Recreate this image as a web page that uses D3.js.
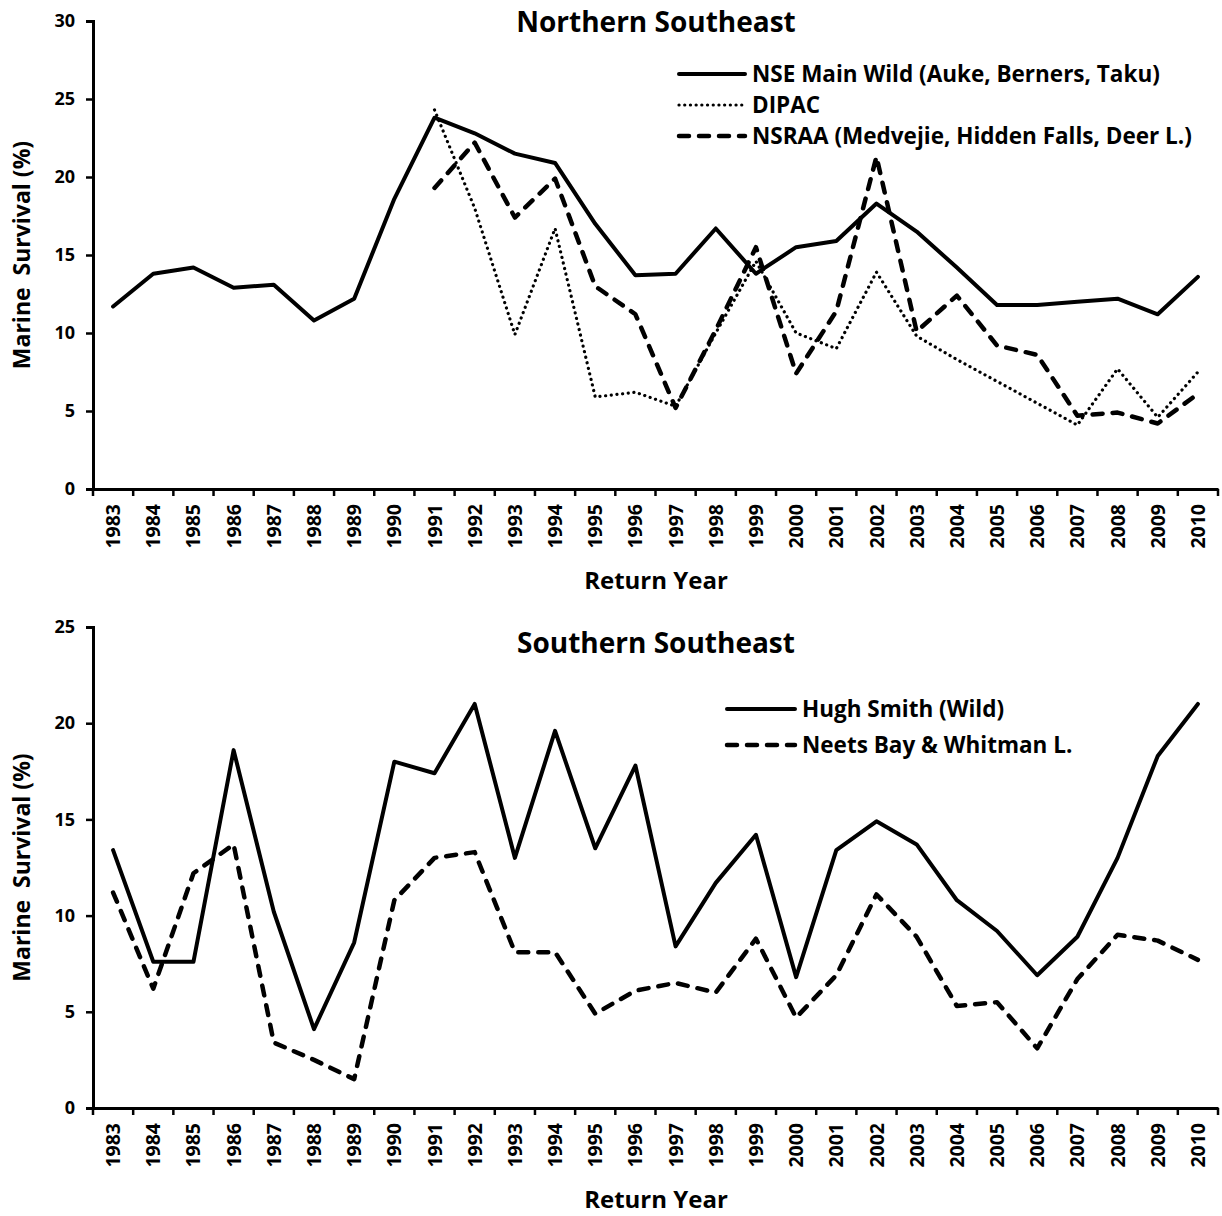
<!DOCTYPE html>
<html>
<head>
<meta charset="utf-8">
<script src="https://cdn.jsdelivr.net/npm/d3@7"></script>
<style>
  body { margin: 0; background: #fff; }
  svg text { font-family: "Open Sans", Lato, sans-serif; font-weight: 700; fill: #000; }
</style>
</head>
<body>
<script>
// return years shared by both panels
var years = d3.range(1983, 2011);

// Northern Southeast
var nseWild = [11.7, 13.8, 14.2, 12.9, 13.1, 10.8, 12.2, 18.6, 23.8, 22.8, 21.5, 20.9, 17.0, 13.7,
  13.8, 16.7, 13.8, 15.5, 15.9, 18.3, 16.5, 14.2, 11.8, 11.8, 12.0, 12.2, 11.2, 13.6];
var dipac = [null, null, null, null, null, null, null, null, 24.3, 18.0, 9.9, 16.7, 5.9, 6.2,
  5.3, 10.0, 14.6, 10.0, 9.0, 13.9, 9.8, 8.3, 6.9, 5.5, 4.1, 7.7, 4.6, 7.5];
var nsraa = [null, null, null, null, null, null, null, null, 19.3, 22.2, 17.4, 19.9, 13.0, 11.2,
  5.2, 10.2, 15.5, 7.4, 11.4, 21.3, 10.1, 12.4, 9.2, 8.6, 4.7, 4.9, 4.2, 6.1];

// Southern Southeast
var hughSmith = [13.4, 7.6, 7.6, 18.6, 10.2, 4.1, 8.6, 18.0, 17.4, 21.0, 13.0, 19.6, 13.5, 17.8,
  8.4, 11.7, 14.2, 6.8, 13.4, 14.9, 13.7, 10.8, 9.2, 6.9, 8.9, 13.0, 18.3, 21.0];
var neetsBay = [11.2, 6.2, 12.2, 13.7, 3.4, 2.5, 1.5, 10.8, 13.0, 13.3, 8.1, 8.1, 4.9, 6.1,
  6.5, 6.0, 8.8, 4.7, 6.9, 11.1, 8.9, 5.3, 5.5, 3.1, 6.7, 9.0, 8.7, 7.7];

var topTicks = [0, 5, 10, 15, 20, 25, 30];
var bottomTicks = [0, 5, 10, 15, 20, 25];

var styles = {
  solid: { width: 4, dash: null },
  dotted: { width: 3.2, dash: "0.1,5.6" },
  dashed: { width: 4.5, dash: "10,10" }
};

var svg = d3.select("body").append("svg")
  .attr("width", 1222).attr("height", 1216);

function drawPanel(opt) {
  var x = d3.scaleBand().domain(years).range([93, 1218]).padding(0);
  var y = d3.scaleLinear().domain([0, opt.max]).range([opt.bottom, opt.top]);
  var g = svg.append("g");

  // y axis
  var yAxis = d3.axisLeft(y).tickValues(opt.ticks).tickSize(7).tickPadding(11);
  var ya = g.append("g").attr("transform", "translate(93,0)").call(yAxis);
  ya.select(".domain").attr("stroke-width", 3);
  ya.selectAll(".tick line").attr("stroke-width", 2.5);
  ya.selectAll(".tick text").style("font-size", "18px");

  // x axis: ticks between categories, labels rotated
  var xAxis = d3.axisBottom(x).tickSize(0);
  var xa = g.append("g").attr("transform", "translate(0," + opt.bottom + ")").call(xAxis);
  xa.select(".domain").attr("stroke-width", 3);
  xa.selectAll(".tick text")
    .style("font-size", "19.5px")
    .attr("text-anchor", "end")
    .attr("transform", "translate(0,15) rotate(-90)")
    .attr("dy", "0.36em").attr("y", 0).attr("x", 0);
  var bounds = years.map(function(d){ return x(d); }).concat([x.range()[1]]);
  g.selectAll(".xtick").data(bounds).enter().append("line")
    .attr("x1", function(d){ return d; }).attr("x2", function(d){ return d; })
    .attr("y1", opt.bottom).attr("y2", opt.bottom + 7)
    .attr("stroke", "#000").attr("stroke-width", 2.5);

  // series
  var line = d3.line()
    .defined(function(d){ return d != null; })
    .x(function(d, i){ return x(years[i]) + x.bandwidth() / 2; })
    .y(function(d){ return y(d); });
  opt.series.forEach(function(s) {
    var st = styles[s.style];
    g.append("path").attr("d", line(s.values))
      .attr("fill", "none").attr("stroke", "#000")
      .attr("stroke-width", st.width)
      .attr("stroke-dasharray", st.dash)
      .attr("stroke-linecap", "round")
      .attr("stroke-linejoin", "round");
  });

  // title
  g.append("text").attr("x", 656).attr("y", opt.titleY)
    .attr("text-anchor", "middle").style("font-size", "28px").text(opt.title);

  // axis labels
  g.append("text").attr("text-anchor", "middle")
    .attr("transform", "translate(30," + ((opt.top + opt.bottom) / 2) + ") rotate(-90)")
    .style("font-size", "23px").attr("xml:space", "preserve").text("Marine  Survival (%)");
  g.append("text").attr("x", 656).attr("y", opt.bottom + 100)
    .attr("text-anchor", "middle").style("font-size", "24px").text("Return Year");

  // legend
  opt.series.forEach(function(s, i) {
    var st = styles[s.style];
    var ly = opt.legendY + i * opt.legendStep;
    g.append("line").attr("x1", opt.legendX).attr("x2", opt.legendX + opt.legendLen)
      .attr("y1", ly).attr("y2", ly)
      .attr("stroke", "#000").attr("stroke-width", st.width)
      .attr("stroke-dasharray", st.dash).attr("stroke-linecap", "round");
    g.append("text").attr("x", opt.legendX + opt.legendLen + 7).attr("y", ly)
      .attr("dy", "0.36em").style("font-size", "22.5px").text(s.name);
  });
}

drawPanel({
  title: "Northern Southeast", titleY: 32, top: 21, bottom: 489, max: 30, ticks: topTicks,
  legendX: 679, legendLen: 66, legendY: 74, legendStep: 31,
  series: [
    { name: "NSE Main Wild (Auke, Berners, Taku)", values: nseWild, style: "solid" },
    { name: "DIPAC", values: dipac, style: "dotted" },
    { name: "NSRAA (Medvejie, Hidden Falls, Deer L.)", values: nsraa, style: "dashed" }
  ]
});

drawPanel({
  title: "Southern Southeast", titleY: 653, top: 627, bottom: 1108, max: 25, ticks: bottomTicks,
  legendX: 727, legendLen: 68, legendY: 709, legendStep: 36,
  series: [
    { name: "Hugh Smith (Wild)", values: hughSmith, style: "solid" },
    { name: "Neets Bay & Whitman L.", values: neetsBay, style: "dashed" }
  ]
});
</script>
</body>
</html>
